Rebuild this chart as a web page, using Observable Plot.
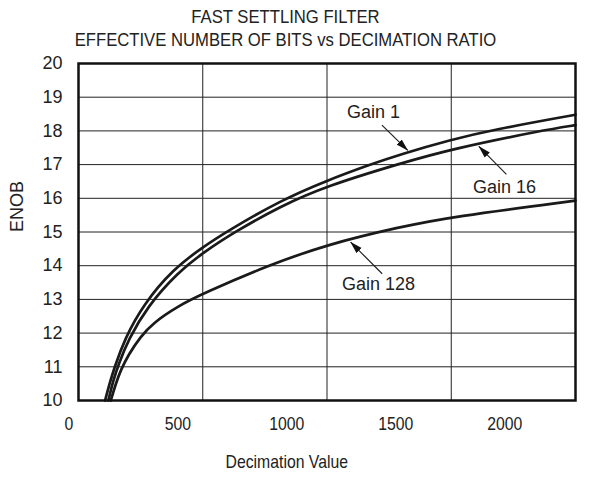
<!DOCTYPE html>
<html>
<head>
<meta charset="utf-8">
<script src="https://cdn.jsdelivr.net/npm/d3@7"></script>
<script src="https://cdn.jsdelivr.net/npm/@observablehq/plot@0.6"></script>
<style>
  html, body { margin: 0; padding: 0; background: white; }
  #root { position: relative; width: 596px; height: 480px; overflow: hidden; font-family: "Liberation Sans", Arial, sans-serif; }
  #main { position: absolute; left: 0; top: 52px; }
  #squeeze { position: absolute; left: 0; top: 0; width: 596px; transform: scaleX(0.877); transform-origin: 0 0; }
  #title { width: 651px; height: 52px; padding-top: 5px; box-sizing: border-box; text-align: center;
           font: 19px "Liberation Sans", Arial, sans-serif; line-height: 23px; color: #222; }
</style>
</head>
<body>
<div id="root">
  <div id="main"></div>
  <div id="squeeze">
    <div id="title">FAST SETTLING FILTER<br>EFFECTIVE NUMBER OF BITS vs DECIMATION RATIO</div>
    <div id="overlay"></div>
  </div>
</div>
<script>
// ---- data ----
const xTicks = [0, 500, 1000, 1500, 2000];
const yTicks = [10, 11, 12, 13, 14, 15, 16, 17, 18, 19, 20];

const gain1X = [107, 125, 143, 187, 261, 381, 500, 600, 811, 1000, 1173, 1293, 1500, 1665, 2000];
const gain1Y = [10, 10.5, 10.95, 11.85, 12.85, 13.9, 14.55, 15.03, 15.93, 16.53, 17, 17.3, 17.74, 18.03, 18.48];

const gain16X = [120, 140, 160, 200, 278, 400, 500, 628, 811, 1000, 1293, 1500, 1870, 2000];
const gain16Y = [10, 10.6, 11.05, 11.8, 12.8, 13.8, 14.38, 15, 15.76, 16.37, 17.03, 17.46, 18.02, 18.17];

const gain128X = [130, 150, 170, 200, 250, 300, 400, 500, 760, 1000, 1293, 1500, 2000];
const gain128Y = [10, 10.5, 10.9, 11.35, 11.9, 12.3, 12.8, 13.17, 14, 14.63, 15.15, 15.45, 15.93];

const labelText = ["Gain 1", "Gain 16", "Gain 128"];
const labelX = [1187, 1714, 1207];
const labelY = [18.55, 16.32, 13.44];
const arrowX1 = [1221, 1722, 1222];
const arrowY1 = [18.17, 16.71, 13.76];
const arrowX2 = [1325, 1611, 1095];
const arrowY2 = [17.42, 17.54, 14.70];

// ---- build tables ----
const rows = [];
[["Gain 1", gain1X, gain1Y], ["Gain 16", gain16X, gain16Y], ["Gain 128", gain128X, gain128Y]]
  .forEach(([s, xs, ys]) => xs.forEach((x, i) => rows.push({series: s, x, y: ys[i]})));
const labels = labelText.map((t, i) => ({text: t, x: labelX[i], y: labelY[i]}));
const arrows = labelText.map((t, i) => ({x1: arrowX1[i], y1: arrowY1[i], x2: arrowX2[i], y2: arrowY2[i]}));

const font = "'Liberation Sans', Arial, sans-serif";
const common = {
  width: 596, height: 428,
  marginTop: 11, marginBottom: 80, marginLeft: 78, marginRight: 21,
  x: {domain: [0, 2000], axis: null},
  y: {domain: [10, 20], axis: null}
};

const main = Plot.plot({
  ...common,
  style: {fontFamily: font, fontSize: "18px", color: "#222", background: "white", overflow: "visible"},
  marks: [
    Plot.gridX(xTicks, {stroke: "#222", strokeOpacity: 1, strokeWidth: 1}),
    Plot.gridY(yTicks, {stroke: "#222", strokeOpacity: 1, strokeWidth: 1}),
    Plot.line(rows, {x: "x", y: "y", z: "series", stroke: "#1a1a1a", strokeWidth: 2.7, curve: "basis"}),
    Plot.link(arrows, {x1: "x1", y1: "y1", x2: "x2", y2: "y2", stroke: "#222", strokeWidth: 1.2, markerEnd: "arrow"}),
    Plot.text(labels, {x: "x", y: "y", text: "text", fontSize: 18, fill: "#222"}),
    Plot.axisY(yTicks, {anchor: "left", tickSize: 0, tickPadding: 16, fontSize: 18, label: null, fill: "#222"}),
    Plot.text(["ENOB"], {frameAnchor: "left", dx: -61, rotate: -90, text: d => d, fontSize: 18, fill: "#222"}),
    Plot.frame({stroke: "#111", strokeWidth: 2.5})
  ]
});

// filled arrowheads
d3.select(main).selectAll("marker")
  .attr("viewBox", "-12 -4 12.5 8")
  .attr("markerWidth", 12.5)
  .attr("markerHeight", 8)
  .attr("markerUnits", "userSpaceOnUse")
  .attr("fill", "#111")
  .attr("stroke", "none")
  .each(function () {
    d3.select(this).selectAll("path").attr("d", "M-12,-3.6L0.5,0L-12,3.6Z").attr("fill", "#111").attr("stroke", "none");
  });
document.getElementById("main").appendChild(main);

const overlay = Plot.plot({
  ...common,
  style: {fontFamily: font, fontSize: "18px", color: "#222", background: "transparent", overflow: "visible"},
  marks: [
    Plot.axisX(xTicks, {anchor: "bottom", tickSize: 0, tickPadding: 17, fontSize: 18, label: null, fill: "#222", tickFormat: d => String(d)}),
    Plot.text(["Decimation Value"], {frameAnchor: "bottom", dy: 67, text: d => d, fontSize: 18, fill: "#222"})
  ]
});
document.getElementById("overlay").appendChild(overlay);
</script>
</body>
</html>
